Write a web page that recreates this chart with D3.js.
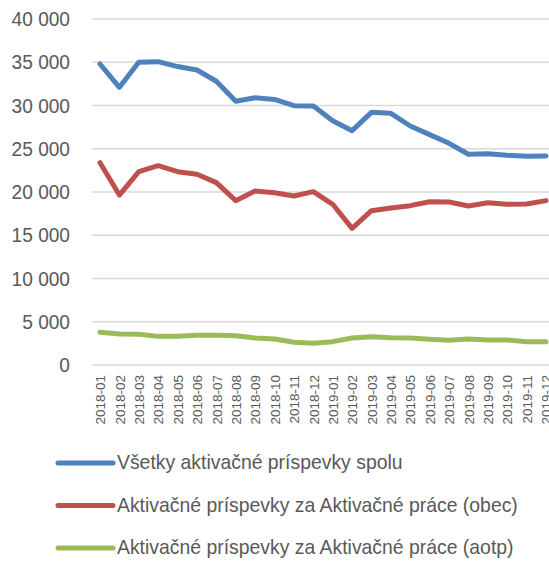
<!DOCTYPE html>
<html>
<head>
<meta charset="utf-8">
<script src="https://cdn.jsdelivr.net/npm/d3@7"></script>
<style>
  body { margin: 0; background: #fff; }
  svg { display: block; font-family: "Liberation Sans", Arial, sans-serif; }
</style>
</head>
<body>
<div id="container"></div>
<script>
// months on the x axis
const months = ["2018-01", "2018-02", "2018-03", "2018-04", "2018-05", "2018-06",
  "2018-07", "2018-08", "2018-09", "2018-10", "2018-11", "2018-12",
  "2019-01", "2019-02", "2019-03", "2019-04", "2019-05", "2019-06",
  "2019-07", "2019-08", "2019-09", "2019-10", "2019-11", "2019-12"];

const spolu = [34800, 32100, 35000, 35070, 34500, 34100, 32800, 30500, 30900, 30700, 29980, 29940,
  28240, 27090, 29210, 29100, 27630, 26630, 25630, 24360, 24430, 24240, 24130, 24160];
const obec = [23390, 19650, 22350, 23040, 22350, 22050, 21080, 19000, 20120, 19920, 19540, 20040,
  18580, 15800, 17840, 18150, 18420, 18880, 18840, 18380, 18760, 18580, 18610, 19000];
const aotp = [3780, 3580, 3550, 3310, 3310, 3430, 3430, 3390, 3120, 3010, 2620, 2510,
  2700, 3120, 3270, 3160, 3120, 2970, 2850, 3010, 2890, 2890, 2700, 2700];

const seriesNames = ["Všetky aktivačné príspevky spolu",
  "Aktivačné príspevky za Aktivačné práce (obec)",
  "Aktivačné príspevky za Aktivačné práce (aotp)"];
const colors = ["#4f81bd", "#c0504d", "#9bbb59"];
const yTicks = [0, 5000, 10000, 15000, 20000, 25000, 30000, 35000, 40000];

const width = 549, height = 562;
const svg = d3.select("#container").append("svg")
  .attr("width", width).attr("height", height);

const x = d3.scalePoint().domain(months).range([100, 546]);
const y = d3.scaleLinear().domain([0, 40000]).range([365, 19]);

const fmt = d3.formatLocale({ decimal: ",", thousands: "\u00a0", grouping: [3], currency: ["", ""] }).format(",");

// grid lines
svg.append("g")
  .selectAll("line")
  .data(yTicks)
  .join("line")
  .attr("x1", 92).attr("x2", 560)
  .attr("y1", d => y(d)).attr("y2", d => y(d))
  .attr("stroke", "#d9d9d9").attr("stroke-width", 1.5);

// y axis labels (squeezed a bit to look like a narrow face)
svg.append("g")
  .attr("transform", "translate(70,0)")
  .call(d3.axisLeft(y).tickValues(yTicks).tickFormat(fmt).tickSize(0).tickPadding(0))
  .call(g => g.select(".domain").remove())
  .call(g => g.selectAll("text")
    .attr("fill", "#595959")
    .attr("font-size", 21)
    .attr("font-family", null)
    .attr("transform", "scale(0.91,1)"));

// x axis labels
svg.append("g")
  .attr("transform", "translate(0,365)")
  .call(d3.axisBottom(x).tickSize(0))
  .call(g => g.select(".domain").remove())
  .call(g => g.selectAll("text")
    .attr("fill", "#595959")
    .attr("font-size", 13.5)
    .attr("font-family", null)
    .attr("text-anchor", "end")
    .attr("transform", "rotate(-90)")
    .attr("x", -10)
    .attr("y", 0)
    .attr("dy", "0.35em"));

const line = d3.line()
  .x((d, i) => x(months[i]))
  .y(d => y(d));

const allSeries = [spolu, obec, aotp];
svg.append("g")
  .selectAll("path")
  .data(allSeries)
  .join("path")
  .attr("d", d => line(d))
  .attr("fill", "none")
  .attr("stroke", (d, i) => colors[i])
  .attr("stroke-width", 5)
  .attr("stroke-linejoin", "round")
  .attr("stroke-linecap", "round");

// legend
const legend = svg.append("g")
  .selectAll("g")
  .data(seriesNames)
  .join("g")
  .attr("transform", (d, i) => `translate(0,${463 + i * 42.5})`);

legend.append("line")
  .attr("x1", 58).attr("x2", 113)
  .attr("stroke", (d, i) => colors[i])
  .attr("stroke-width", 5)
  .attr("stroke-linecap", "round");

legend.append("text")
  .attr("transform", "translate(117,0) scale(0.97,1)")
  .attr("dy", "0.3em")
  .attr("fill", "#595959")
  .attr("font-size", 20)
  .text(d => d);
</script>
</body>
</html>
